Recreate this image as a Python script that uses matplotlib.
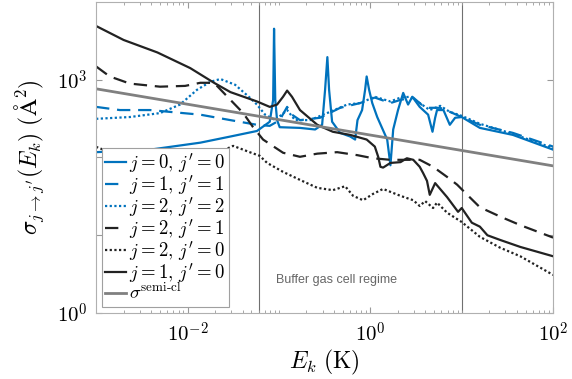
import numpy as np
import matplotlib
matplotlib.use('Agg')
import matplotlib.pyplot as plt
from matplotlib.ticker import LogLocator, NullLocator, NullFormatter

plt.rcParams['mathtext.fontset'] = 'cm'
plt.rcParams['font.family'] = 'DejaVu Sans'

BLUE = '#0072BD'
BLACK = '#222222'
GREY = '#808080'

# j=0 -> j'=0
E_00 = [0.001, 0.00389, 0.0138, 0.0295, 0.0575, 0.0794, 0.0865, 0.0885, 0.0912, 0.0955,
        0.102, 0.170, 0.249, 0.297, 0.320, 0.339, 0.354, 0.382, 0.468, 0.603,
        0.682, 0.724, 0.813, 0.877, 0.912, 0.970, 1.05, 1.19, 1.53, 1.66,
        1.78, 2.01, 2.29, 2.59, 2.88, 3.47, 4.29, 4.79, 5.12, 5.37,
        6.31, 7.41, 8.47, 10, 15.8, 36.3, 100]
s_00 = [117, 126, 155, 186, 219, 288, 550, 4520, 550, 302,
        245, 240, 229, 263, 741, 1950, 741, 288, 207, 186,
        170, 302, 407, 741, 1100, 741, 501, 331, 170, 79.4,
        229, 407, 676, 479, 603, 447, 355, 214, 324, 407,
        407, 263, 324, 331, 240, 195, 126]

# j=1 -> j'=1
E_11 = [0.001, 0.00182, 0.00389, 0.0138, 0.0295, 0.0575, 0.0794, 0.102, 0.123, 0.139,
        0.170, 0.282, 0.468, 0.776, 1.12, 1.66, 2.14, 2.95, 3.98, 5.81,
        7.41, 10, 15.8, 36.3, 100]
s_11 = [447, 407, 407, 355, 302, 263, 255, 302, 447, 355,
        302, 324, 435, 501, 589, 501, 550, 589, 435, 435,
        386, 331, 263, 207, 138]

# j=2 -> j'=2
E_22 = [0.001, 0.00234, 0.00501, 0.00829, 0.0127, 0.0178, 0.0229, 0.0332, 0.0479, 0.0575,
        0.0706, 0.0912, 0.123, 0.150, 0.219, 0.363, 0.557, 0.776, 1.12, 1.66,
        2.14, 2.72, 3.47, 4.47, 5.81, 7.41, 10, 15.8, 36.3, 100]
s_22 = [314, 331, 372, 479, 741, 940, 1020, 860, 589, 479,
        355, 302, 407, 302, 302, 386, 479, 501, 603, 525,
        589, 603, 501, 407, 461, 386, 343, 271, 201, 132]

# j=2 -> j'=1
E_21 = [0.001, 0.00141, 0.00234, 0.00501, 0.00942, 0.0138, 0.0195, 0.0295, 0.0407, 0.0522,
        0.0671, 0.111, 0.170, 0.263, 0.434, 0.724, 1.07, 1.66, 3.47, 4.86,
        6.92, 8.91, 11.5, 15.8, 26.3, 43.7, 100]
s_21 = [1480, 1100, 891, 813, 832, 912, 912, 550, 372, 245,
        170, 115, 102, 112, 117, 107, 97.7, 93.3, 93.3, 75.9,
        56.2, 44.7, 33.1, 22.9, 17.4, 13.5, 9.33]

# j=2 -> j'=0
E_20 = [0.001, 0.00141, 0.00303, 0.00829, 0.0156, 0.0216, 0.0316, 0.0479, 0.0617, 0.0743,
        0.111, 0.170, 0.263, 0.389, 0.530, 0.649, 0.834, 1.07, 1.38, 2.14,
        2.95, 3.47, 3.98, 4.86, 5.37, 6.92, 10, 15.8, 26.3, 43.7, 100]
s_20 = [137, 117, 79.4, 74.1, 87.1, 115, 141, 117, 105, 85.1,
        65.3, 51.5, 40.7, 38.0, 42.7, 32.1, 28.2, 34.0, 39.4, 32.1,
        28.2, 23.8, 27.5, 22.4, 26.3, 19.5, 14.8, 9.55, 6.92, 5.37, 3.09]

# j=1 -> j'=0
E_10 = [0.001, 0.0020, 0.00468, 0.0107, 0.0195, 0.0295, 0.0575, 0.0794, 0.0955, 0.111,
        0.123, 0.139, 0.170, 0.263, 0.389, 0.603, 0.912, 1.12, 1.22, 1.29,
        1.38, 1.66, 2.14, 2.51, 2.95, 3.47, 3.78, 4.17, 4.47, 5.12,
        6.92, 9.12, 10, 12.9, 15.8, 19.1, 26.3, 43.7, 100]
s_10 = [4900, 3240, 2240, 1410, 912, 692, 525, 447, 479, 603,
        724, 603, 407, 263, 214, 195, 170, 138, 102, 75.9,
        74.1, 85.1, 87.1, 97.7, 93.3, 75.9, 63.1, 50.0, 33.1, 46.8,
        30.9, 20.0, 22.4, 14.5, 12.9, 10.0, 8.71, 7.08, 5.37]

# semi-classical estimate
E_sc = [0.001, 100]
s_sc = [763, 78]

# buffer gas cell regime
regime = [0.06, 10]

fig = plt.figure(figsize=(5.72, 3.79), dpi=100)
ax = fig.add_axes([0.168, 0.174, 0.799, 0.821])

lw = 1.6
dash = (0, (6, 3.5))
dot = (0, (1, 1.1))
ax.plot(E_00, s_00, color=BLUE, lw=lw, ls='-', label=r"$j=0,\,j'=0$")
ax.plot(E_11, s_11, color=BLUE, lw=lw, ls=dash, label=r"$j=1,\,j'=1$")
ax.plot(E_22, s_22, color=BLUE, lw=lw, ls=dot, label=r"$j=2,\,j'=2$")
ax.plot(E_21, s_21, color=BLACK, lw=lw, ls=dash, label=r"$j=2,\,j'=1$")
ax.plot(E_20, s_20, color=BLACK, lw=lw, ls=dot, label=r"$j=2,\,j'=0$")
ax.plot(E_10, s_10, color=BLACK, lw=lw, ls='-', label=r"$j=1,\,j'=0$")
ax.plot(E_sc, s_sc, color=GREY, lw=2.0, ls='-', label=r"$\sigma^{\mathrm{semi}\text{-}\mathrm{cl}}$")

for e in regime:
    ax.axvline(e, color='#707070', lw=0.8, zorder=0)

ax.text(0.093, 2.66, 'Buffer gas cell regime', color='#666666', fontsize=9,
        family='Liberation Sans', va='center', ha='left')

ax.set_xscale('log')
ax.set_yscale('log')
ax.set_xlim(1e-3, 1e2)
ax.set_ylim(1, 1e4)

ax.set_xticks([1e-2, 1, 1e2])
ax.set_xticklabels([r'$10^{-2}$', r'$10^{0}$', r'$10^{2}$'])
ax.xaxis.set_minor_locator(LogLocator(base=10, subs=np.arange(1, 10), numticks=20))
ax.xaxis.set_minor_formatter(NullFormatter())
ax.set_yticks([1, 10, 100, 1000])
ax.set_yticklabels([r'$10^{0}$', '', '', r'$10^{3}$'])
ax.yaxis.set_minor_locator(NullLocator())

ax.tick_params(which='both', direction='in', top=True, right=True, color='#999999',
               labelsize=15, pad=6)
ax.tick_params(which='major', length=4)
ax.tick_params(which='minor', length=2)
for sp in ax.spines.values():
    sp.set_color('#b0b0b0')
    sp.set_linewidth(0.8)

ax.set_xlabel(r'$E_k\ \mathrm{(K)}$', fontsize=17, labelpad=2)
ax.set_ylabel(r"$\sigma_{j\to j'}(E_k)\ (\mathrm{\AA}^2)$", fontsize=17, labelpad=8)

leg = ax.legend(loc='lower left', fontsize=13.5, handlelength=1.1, handletextpad=0.15,
                labelspacing=-0.08, borderpad=0.2, borderaxespad=0.3, fancybox=False,
                edgecolor='#a0a0a0', framealpha=1)
leg.get_frame().set_linewidth(0.8)

fig.savefig('out.png', dpi=100)
